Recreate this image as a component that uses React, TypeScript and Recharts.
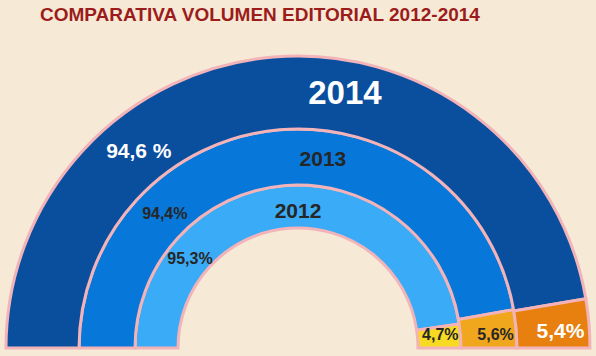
import { Pie, PieChart } from "recharts";

const years = ["2012", "2013", "2014"];
const mainShare = [95.3, 94.4, 94.6];
const otherShare = [4.7, 5.6, 5.4];
const mainLabels = ["95,3%", "94,4%", "94,6 %"];
const otherLabels = ["4,7%", "5,6%", "5,4%"];

// ring look: radii, colours and where the labels sit (angle in degrees, radius)
const rings = [
    {
        inner: 120, outer: 163, main: "#3aabf6", other: "#f8da22",
        dark: true, yearSize: 21, pctSize: 16, otherSize: 16,
        yearAt: [90, 138], mainAt: [140.5, 140], otherAt: [5.6, 143],
    },
    {
        inner: 163, outer: 219, main: "#0778da", other: "#f0a71e",
        dark: true, yearSize: 21, pctSize: 16, otherSize: 16,
        yearAt: [82.5, 191], mainAt: [134.8, 189], otherAt: [4.0, 198],
    },
    {
        inner: 219, outer: 292, main: "#0a4e9e", other: "#e8800f",
        dark: false, yearSize: 33, pctSize: 21, otherSize: 21,
        yearAt: [79.6, 260], mainAt: [128.8, 254], otherAt: [3.9, 263],
    },
]

const CX = 298;
const CY = 348;
const RAD = Math.PI / 180;

const polar = (cx: number, cy: number, at: number[]) => ({
    x: cx + at[1] * Math.cos(at[0] * RAD),
    y: cy - at[1] * Math.sin(at[0] * RAD),
})

const makeLabel = (ring: number) => (props: any) => {
    const r = rings[ring];
    const { cx, cy, index } = props;
    const fill = r.dark ? "#262626" : "#ffffff";
    const common = {
        textAnchor: "middle" as const,
        dominantBaseline: "central" as const,
        fontFamily: "Liberation Sans, Arial, sans-serif",
        fontWeight: 700,
        fill,
    };
    if (index === 0) {
        const y = polar(cx, cy, r.yearAt);
        const m = polar(cx, cy, r.mainAt);
        return (
            <g>
                <text x={y.x} y={y.y} fontSize={r.yearSize} {...common}>{years[ring]}</text>
                <text x={m.x} y={m.y} fontSize={r.pctSize} {...common}>{mainLabels[ring]}</text>
            </g>
        );
    }
    const o = polar(cx, cy, r.otherAt);
    return (
        <text x={o.x} y={o.y} fontSize={r.otherSize} {...common}>{otherLabels[ring]}</text>
    );
}

export default function App() {
    return (
        <div style={{ position: "absolute", left: 0, top: 0, width: 596, height: 356, background: "#f6ead6", overflow: "hidden" }}>
            <div style={{
                position: "absolute", left: 40, top: 4, fontFamily: "Liberation Sans, Arial, sans-serif",
                fontWeight: 700, fontSize: 19, color: "#9c1c1c", whiteSpace: "nowrap",
            }}>
                COMPARATIVA VOLUMEN EDITORIAL 2012-2014
            </div>
            <div style={{ position: "absolute", left: 0, top: 0 }}>
                <PieChart width={596} height={356} margin={{ top: 0, right: 0, bottom: 0, left: 0 }}>
                    {rings.map((r, i) => (
                        <Pie
                            key={years[i]}
                            data={[
                                { name: "main", value: mainShare[i], fill: r.main },
                                { name: "other", value: otherShare[i], fill: r.other },
                            ]}
                            dataKey="value"
                            cx={CX}
                            cy={CY}
                            startAngle={180}
                            endAngle={0}
                            innerRadius={r.inner}
                            outerRadius={r.outer}
                            stroke="#f2b3b9"
                            strokeWidth={3}
                            label={makeLabel(i)}
                            labelLine={false}
                            isAnimationActive={false}
                        />
                    ))}
                </PieChart>
            </div>
        </div>
    )
}
